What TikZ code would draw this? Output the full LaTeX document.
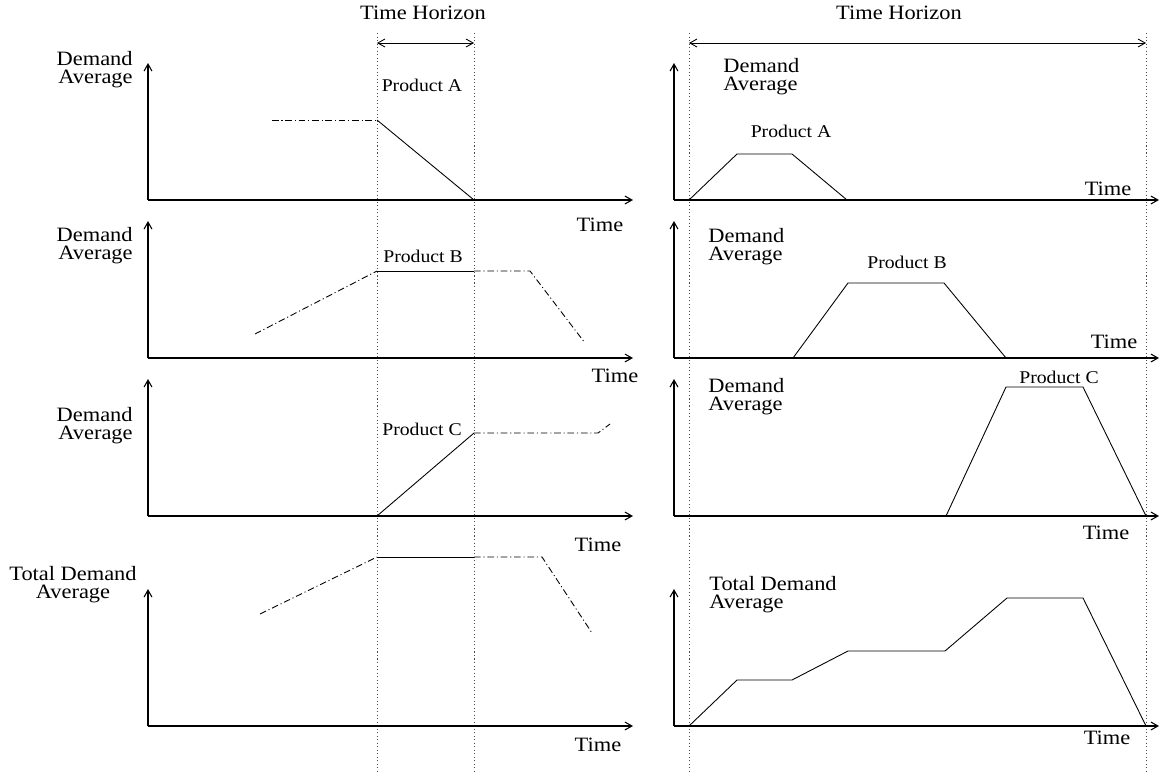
\documentclass[tikz,border=0pt]{standalone}
\usepackage{fontspec}
\setmainfont[FakeStretch=1.1]{Liberation Serif}
\usetikzlibrary{arrows.meta}

\begin{document}
\begin{tikzpicture}[x=0.02cm, y=-0.02cm,
    axis/.style={line width=0.6pt, -{Straight Barb[length=4pt,width=4.5pt]}},
    horizon/.style={line width=0.5pt, {Straight Barb[length=4pt,width=4.5pt]}-{Straight Barb[length=4pt,width=4.5pt]}},
    guide/.style={line width=0.5pt, black!70, dash pattern=on 0.6pt off 1.4pt},
    known/.style={line width=0.5pt},
    guess/.style={line width=0.5pt, dash pattern=on 3.8pt off 1.6pt on 0.6pt off 1.6pt},
    lbl/.style={font=\fontsize{11.6}{10.2}\selectfont, inner sep=0pt},
    prod/.style={font=\fontsize{10.2}{11}\selectfont, inner sep=0pt}]
		%%%%% START %%%%%
		\useasboundingbox (0,0) rectangle (1165,774);
		
		% horizons
		\draw[guide] (377,33) -- (377,774);
		\draw[guide] (474,33) -- (474,774);
		\draw[guide] (689,33) -- (689,774);
		\draw[guide] (1146,33) -- (1146,774);
		\draw[horizon] (377,43) -- (474,43);
		\draw[horizon] (689,43) -- (1146,43);
		\node[lbl] (horL) at (423,13) {Time Horizon};
		\node[lbl] (horR) at (899,13) {Time Horizon};
		
		% axes
		\foreach \yb in {200,358,516,726} {
			\draw[axis] (148,\yb) -- (633,\yb);
			\draw[axis] (148,\yb) -- (148,\yb-137);
			\draw[axis] (674,\yb) -- (1159,\yb);
			\draw[axis] (674,\yb) -- (674,\yb-137);
		}
		
		% left: product A
		\node[lbl, anchor=east, align=right] (demLA) at (133,70) {Demand\\Average};
		\node[lbl] (timeLA) at (600,225) {Time};
		\node[prod] (prodLA) at (422,85) {Product A};
		\draw[guess] (272,120) -- (377,120);
		\draw[known] (377,120) -- (474,200);
		
		% left: product B
		\node[lbl, anchor=east, align=right] (demLB) at (133,246) {Demand\\Average};
		\node[lbl] (timeLB) at (615,376) {Time};
		\node[prod] (prodLB) at (423,256) {Product B};
		\draw[guess] (255,334) -- (377,271);
		\draw[known] (377,271) -- (474,271);
		\draw[guess] (474,271) -- (530,271) -- (585,343);
		
		% left: product C
		\node[lbl, anchor=east, align=right] (demLC) at (133,426) {Demand\\Average};
		\node[lbl] (timeLC) at (598,545) {Time};
		\node[prod] (prodLC) at (422,429) {Product C};
		\draw[known] (377,516) -- (474,433);
		\draw[guess] (474,433) -- (598,433) -- (610,424);
		
		% left: total
		\node[lbl, align=center] (demLT) at (73,585) {Total Demand\\Average};
		\node[lbl] (timeLT) at (598,745) {Time};
		\draw[guess] (260,614) -- (377,557);
		\draw[known] (377,557) -- (474,557);
		\draw[guess] (474,557) -- (542,557) -- (592,633);
		
		% right: product A
		\node[lbl, anchor=west, align=left] (demRA) at (723,77) {Demand\\Average};
		\node[lbl] (timeRA) at (1108,189) {Time};
		\node[prod] (prodRA) at (791,131) {Product A};
		\draw[known] (689,200) -- (737,154) -- (792,154) -- (847,200);
		
		% right: product B
		\node[lbl, anchor=west, align=left] (demRB) at (708,247) {Demand\\Average};
		\node[lbl] (timeRB) at (1114,342) {Time};
		\node[prod] (prodRB) at (907,262) {Product B};
		\draw[known] (793,358) -- (848,283) -- (944,283) -- (1006,358);
		
		% right: product C
		\node[lbl, anchor=west, align=left] (demRC) at (708,397) {Demand\\Average};
		\node[lbl] (timeRC) at (1106,533) {Time};
		\node[prod] (prodRC) at (1059,377) {Product C};
		\draw[known] (946,516) -- (1006,387) -- (1083,387) -- (1146,516);
		
		% right: total
		\node[lbl, anchor=west, align=left] (demRT) at (709,595) {Total Demand\\Average};
		\node[lbl] (timeRT) at (1107,738) {Time};
		\draw[known] (689,726) -- (737,680) -- (792,680) -- (848,651) -- (945,651)
			-- (1007,598) -- (1083,598) -- (1146,726);
		
		%%%%% END %%%%%
	\end{tikzpicture}
\end{document}
